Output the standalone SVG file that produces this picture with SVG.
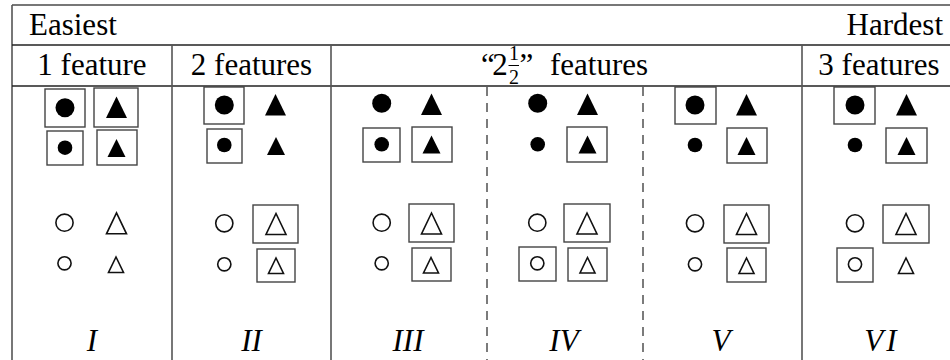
<svg xmlns="http://www.w3.org/2000/svg" width="950" height="360" viewBox="0 0 950 360">
<style>
  .t { font-family: "Liberation Serif", "Times New Roman", Times, serif; font-size: 31px; fill: #000; }
  .fr { font-family: "Liberation Serif", "Times New Roman", Times, serif; font-size: 20px; fill: #000; }
  .it { font-family: "Liberation Serif", "Times New Roman", Times, serif; font-size: 31px; font-style: italic; fill: #000; }
  .hl { stroke: #222; stroke-width: 1.5; fill: none; }
  .vl { stroke: #555; stroke-width: 1.6; fill: none; }
  .dl { stroke: #444; stroke-width: 1.4; stroke-dasharray: 9 7; fill: none; }
  .box { fill: none; stroke: #444; stroke-width: 1.4; }
  .fill { fill: #000; stroke: none; }
  .open { fill: none; stroke: #111; stroke-width: 1.6; }
</style>
<defs>
  <path id="tA" d="M -10.5 10.5 L 10.5 10.5 L 0 -11 Z"/>
  <path id="tB" d="M -9 9 L 9 9 L 0 -9 Z"/>
  <path id="tC" d="M -10 10.5 L 10 10.5 L 0 -10.5 Z"/>
  <path id="tD" d="M -7.5 7.5 L 7.5 7.5 L 0 -8 Z"/>
  <circle id="cA" r="9.5"/>
  <circle id="cB" r="7.3"/>
  <circle id="cC" r="8.6"/>
  <circle id="cD" r="6.6"/>
</defs>
<rect x="0" y="0" width="950" height="360" fill="#fff"/>

<g id="grid">
  <line x1="12" y1="5" x2="960" y2="5" stroke="#777" stroke-width="2"/>
  <line class="vl" x1="12" y1="5" x2="12" y2="360"/>
  <line class="hl" x1="12" y1="45" x2="960" y2="45"/>
  <line class="hl" x1="12" y1="86" x2="960" y2="86"/>
  <line class="vl" x1="172" y1="45" x2="172" y2="360"/>
  <line class="vl" x1="331" y1="45" x2="331" y2="360"/>
  <line class="vl" x1="802" y1="45" x2="802" y2="360"/>
  <line class="dl" x1="487" y1="87" x2="487" y2="360"/>
  <line class="dl" x1="643" y1="87" x2="643" y2="360"/>
</g>

<g id="headers">
  <text class="t" x="29" y="35">Easiest</text>
  <text class="t" x="943" y="35" text-anchor="end">Hardest</text>
  <text class="t" x="92" y="75" text-anchor="middle">1 feature</text>
  <text class="t" x="251.5" y="75" text-anchor="middle">2 features</text>
  <g id="half">
    <text class="t" x="481" y="75" letter-spacing="-2.5">“2</text>
    <text class="fr" x="514" y="60" text-anchor="middle">1</text>
    <line x1="508.5" y1="65.5" x2="519" y2="65.5" stroke="#000" stroke-width="1"/>
    <text class="fr" x="514" y="84" text-anchor="middle">2</text>
    <text class="t" x="519.5" y="75">”</text>
    <text class="t" x="550" y="75">features</text>
  </g>
  <text class="t" x="879" y="75" text-anchor="middle">3 features</text>
</g>

<g id="col1">
  <rect class="box" x="45" y="89" width="40" height="38"/>
  <rect class="box" x="94" y="88" width="44" height="39"/>
  <rect class="box" x="47" y="131" width="36" height="34"/>
  <rect class="box" x="97" y="130" width="40" height="35"/>
  <use href="#cA" class="fill" x="65" y="107.7"/>
  <use href="#tA" class="fill" x="116.5" y="107.5"/>
  <use href="#cB" class="fill" x="65" y="147.7"/>
  <use href="#tB" class="fill" x="116.5" y="148"/>
  <use href="#cC" class="open" x="64.5" y="222.7"/>
  <use href="#tC" class="open" x="116.5" y="223.3"/>
  <use href="#cD" class="open" x="64.5" y="263.3"/>
  <use href="#tD" class="open" x="116" y="265"/>
  <text class="it" x="92" y="351" text-anchor="middle">I</text>
</g>

<g id="col2">
  <rect class="box" x="204" y="87" width="40" height="37"/>
  <rect class="box" x="207" y="129" width="35" height="34"/>
  <rect class="box" x="253" y="205" width="45" height="38"/>
  <rect class="box" x="257" y="249" width="38" height="33"/>
  <use href="#cA" class="fill" x="224.3" y="105"/>
  <use href="#tA" class="fill" x="275.5" y="105"/>
  <use href="#cB" class="fill" x="224.3" y="145"/>
  <use href="#tB" class="fill" x="276" y="146"/>
  <use href="#cC" class="open" x="224.3" y="223.3"/>
  <use href="#tC" class="open" x="276" y="224"/>
  <use href="#cD" class="open" x="224.3" y="264.3"/>
  <use href="#tD" class="open" x="276" y="266"/>
  <text class="it" x="251.5" y="351" text-anchor="middle">II</text>
</g>

<g id="col3">
  <rect class="box" x="363" y="128" width="37" height="34"/>
  <rect class="box" x="412" y="127" width="40" height="35"/>
  <rect class="box" x="409" y="204" width="45" height="38"/>
  <rect class="box" x="412" y="248" width="39" height="33"/>
  <use href="#cA" class="fill" x="381.7" y="103.3"/>
  <use href="#tA" class="fill" x="431.5" y="104.5"/>
  <use href="#cB" class="fill" x="381.7" y="144.3"/>
  <use href="#tB" class="fill" x="431.5" y="144.5"/>
  <use href="#cC" class="open" x="381.7" y="222.7"/>
  <use href="#tC" class="open" x="431.5" y="223.5"/>
  <use href="#cD" class="open" x="381.7" y="263.3"/>
  <use href="#tD" class="open" x="431" y="265.5"/>
  <text class="it" x="408" y="351" text-anchor="middle">III</text>
</g>

<g id="col4">
  <rect class="box" x="567" y="127" width="40" height="35"/>
  <rect class="box" x="564" y="204" width="46" height="38"/>
  <rect class="box" x="519" y="247" width="37" height="34"/>
  <rect class="box" x="568" y="248" width="39" height="33"/>
  <use href="#cA" class="fill" x="537.7" y="103.3"/>
  <use href="#tA" class="fill" x="587.5" y="104.5"/>
  <use href="#cB" class="fill" x="537.7" y="144.3"/>
  <use href="#tB" class="fill" x="587.5" y="144.5"/>
  <use href="#cC" class="open" x="537.3" y="222.7"/>
  <use href="#tC" class="open" x="587" y="223.5"/>
  <use href="#cD" class="open" x="537.3" y="263.3"/>
  <use href="#tD" class="open" x="587.5" y="265.5"/>
  <text class="it" x="564" y="351" text-anchor="middle">IV</text>
</g>

<g id="col5">
  <rect class="box" x="675" y="87" width="41" height="37"/>
  <rect class="box" x="727" y="128" width="40" height="35"/>
  <rect class="box" x="724" y="205" width="45" height="38"/>
  <rect class="box" x="727" y="248" width="39" height="34"/>
  <use href="#cA" class="fill" x="695" y="105"/>
  <use href="#tA" class="fill" x="746.5" y="105"/>
  <use href="#cB" class="fill" x="695" y="145"/>
  <use href="#tB" class="fill" x="746.5" y="146"/>
  <use href="#cC" class="open" x="695" y="223.3"/>
  <use href="#tC" class="open" x="746.5" y="224"/>
  <use href="#cD" class="open" x="695" y="264.3"/>
  <use href="#tD" class="open" x="746.5" y="266"/>
  <text class="it" x="721" y="351" text-anchor="middle">V</text>
</g>

<g id="col6">
  <rect class="box" x="834" y="87" width="41" height="37"/>
  <rect class="box" x="886" y="128" width="41" height="35"/>
  <rect class="box" x="883" y="205" width="46" height="38"/>
  <rect class="box" x="837" y="248" width="36" height="34"/>
  <use href="#cA" class="fill" x="855" y="105"/>
  <use href="#tA" class="fill" x="906.5" y="105"/>
  <use href="#cB" class="fill" x="855" y="145"/>
  <use href="#tB" class="fill" x="906.5" y="146"/>
  <use href="#cC" class="open" x="855" y="223.3"/>
  <use href="#tC" class="open" x="906" y="224"/>
  <use href="#cD" class="open" x="855" y="264.3"/>
  <use href="#tD" class="open" x="906" y="266"/>
  <text class="it" x="882" y="351" text-anchor="middle" letter-spacing="3">VI</text>
</g>
</svg>
